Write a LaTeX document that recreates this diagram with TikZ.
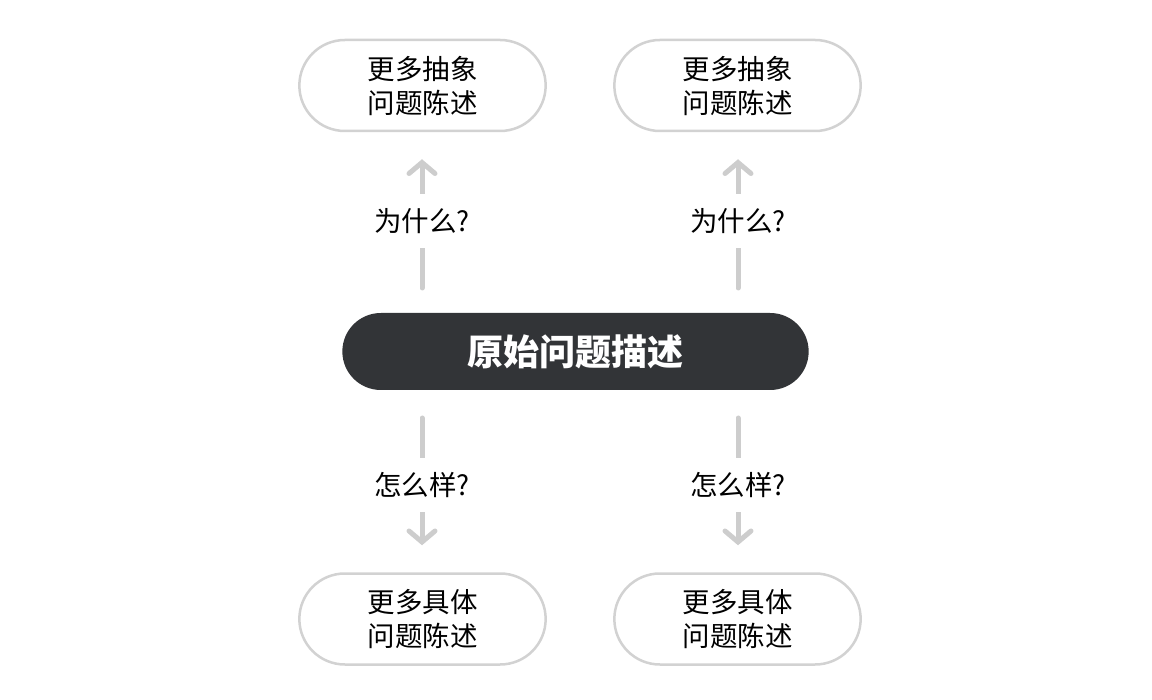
\documentclass[tikz,border=0pt]{standalone}
\usepackage{fontspec}
\setmainfont{Noto Sans CJK SC}
\usetikzlibrary{shapes.misc,arrows.meta}
\definecolor{edgegrey}{HTML}{D2D2D2}
\definecolor{arrowgrey}{HTML}{CDCDCD}
\definecolor{darkfill}{HTML}{323437}
\begin{document}
\begin{tikzpicture}[x=1pt,y=-1pt,
  pill/.style={rounded rectangle, draw=edgegrey, line width=2.5pt, fill=white,
    minimum width=253pt, minimum height=91pt, align=center,
    font=\fontsize{27.5}{34}\selectfont, text=black},
  core/.style={rounded rectangle, fill=darkfill, minimum width=473pt, minimum height=77pt,
    font=\fontsize{36}{40}\selectfont\bfseries, text=white},
  conn/.style={draw=arrowgrey, line width=5pt, line cap=round,
    -{Straight Barb[length=11pt,width=26pt,line cap=round]}},
  lbl/.style={fill=white, inner sep=0pt, minimum height=54pt, font=\fontsize{27.5}{30}\selectfont, text=black}
]
\useasboundingbox (0,0) rectangle (1152,700);
\node[core] (c) at (575.5,351.5) {原始问题描述};
\node[pill] (tl) at (422.5,85.5) {更多抽象\\问题陈述};
\node[pill] (tr) at (737.5,85.5) {更多抽象\\问题陈述};
\node[pill] (bl) at (422.5,619) {更多具体\\问题陈述};
\node[pill] (br) at (737.5,619) {更多具体\\问题陈述};
\coordinate (ctl) at (422,313);
\coordinate (ctr) at (738,313);
\coordinate (cbl) at (422,390);
\coordinate (cbr) at (738,390);
\draw[conn, shorten <=25pt, shorten >=27pt] (ctl) -- (tl.south -| ctl) node[lbl, pos=0.51] {为什么?};
\draw[conn, shorten <=25pt, shorten >=27pt] (ctr) -- (tr.south -| ctr) node[lbl, pos=0.51] {为什么?};
\draw[conn, shorten <=28pt, shorten >=27pt] (cbl) -- (bl.north -| cbl) node[lbl, pos=0.52] {怎么样?};
\draw[conn, shorten <=28pt, shorten >=27pt] (cbr) -- (br.north -| cbr) node[lbl, pos=0.52] {怎么样?};
\end{tikzpicture}
\end{document}
